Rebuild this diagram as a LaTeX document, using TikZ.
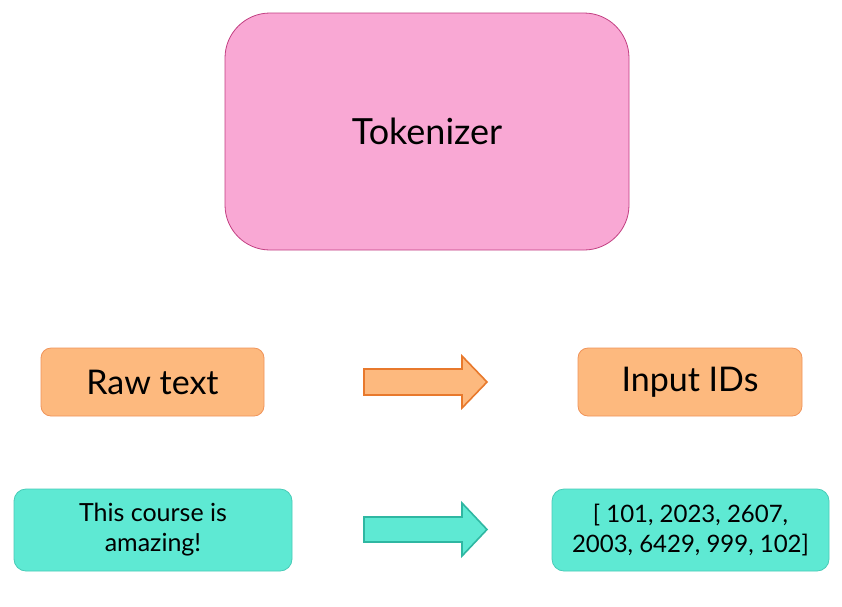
\documentclass[tikz,border=0pt]{standalone}
\usepackage{fontspec}
\setmainfont{Lato}
\definecolor{pinkfill}{HTML}{F9A8D4}
\definecolor{pinkline}{HTML}{C23F82}
\definecolor{orfill}{HTML}{FDB97E}
\definecolor{orline}{HTML}{F0945A}
\definecolor{orarrow}{HTML}{E8792C}
\definecolor{tlfill}{HTML}{5EE9D3}
\definecolor{tlline}{HTML}{48CBB7}
\definecolor{tlarrow}{HTML}{2FB7A2}
\begin{document}
\begin{tikzpicture}[x=1pt,y=-1pt,
  bigbox/.style={draw=pinkline,fill=pinkfill,line width=0.8pt,rounded corners=45pt,minimum width=404pt,minimum height=237pt,inner sep=0pt,font=\fontsize{36}{42}\selectfont},
  orbox/.style={draw=orline,fill=orfill,line width=0.8pt,rounded corners=10pt,minimum width=223pt,minimum height=68pt,inner sep=0pt,font=\fontsize{34}{40}\selectfont},
  tlbox/.style={draw=tlline,fill=tlfill,line width=0.8pt,rounded corners=12pt,minimum width=278pt,minimum height=82pt,inner sep=0pt,align=center,font=\fontsize{24}{30}\selectfont},
  blockarrow/.style={line width=1.6pt,line join=miter}]
\useasboundingbox (0,0) rectangle (842,606);
\fill[white] (0,0) rectangle (842,606);
\node[bigbox] (tok) at (427,131.5) {Tokenizer};
\node[orbox] (raw) at (152.5,382) {Raw text};
\node[orbox,minimum width=224pt] (ids) at (690,382) {Input IDs};
\node[tlbox,font=\fontsize{25}{30}\selectfont] (sent) at (153,530) {This course is\\amazing!};
\node[tlbox,minimum width=277pt] (nums) at (690.5,530) {[ 101, 2023, 2607,\\2003, 6429, 999, 102]};
\coordinate (a1) at (364,382);
\coordinate (a2) at (364,529.5);
\draw[blockarrow,draw=orarrow,fill=orfill] (a1) ++(0,-13) -- ++(98,0) -- ++(0,-13) -- ++(25,26) -- ++(-25,26) -- ++(0,-13) -- ++(-98,0) -- cycle;
\draw[blockarrow,draw=tlarrow,fill=tlfill] (a2) ++(0,-12.5) -- ++(98,0) -- ++(0,-14) -- ++(25,26.5) -- ++(-25,26.5) -- ++(0,-14) -- ++(-98,0) -- cycle;
\end{tikzpicture}
\end{document}
